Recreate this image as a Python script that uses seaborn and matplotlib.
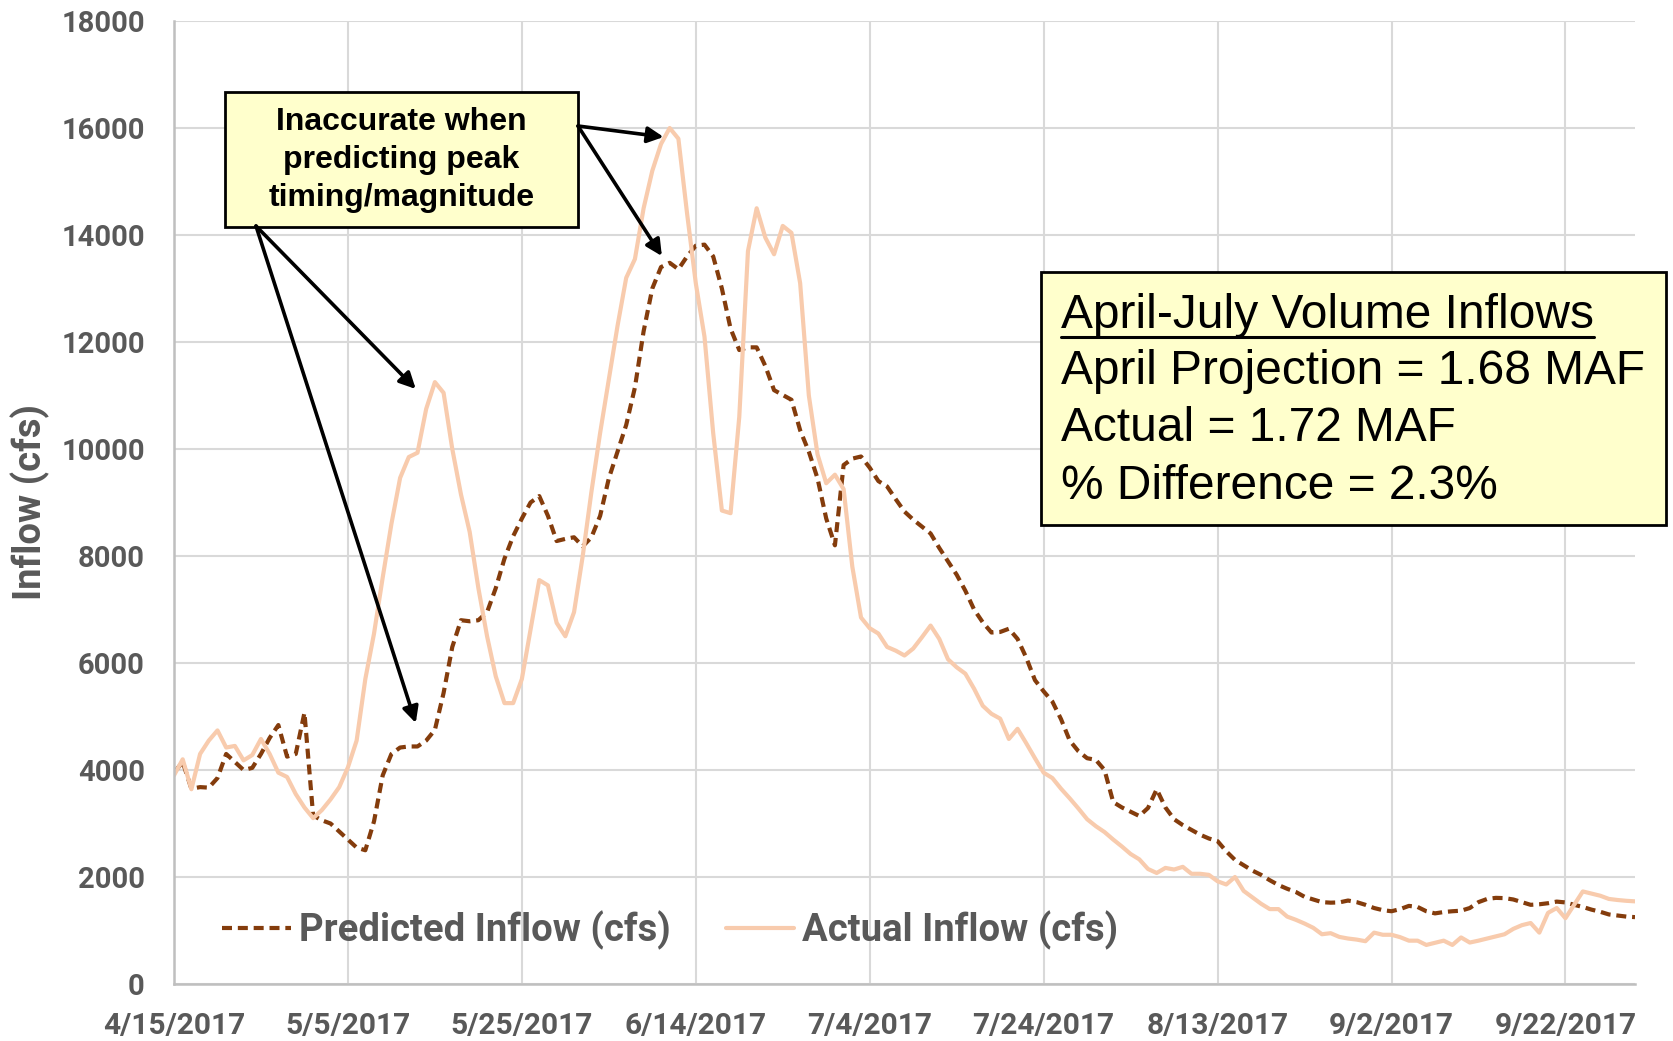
import matplotlib
matplotlib.use("Agg")
import matplotlib.pyplot as plt
import matplotlib.dates as mdates
from matplotlib.patches import Rectangle
from matplotlib.lines import Line2D
import seaborn as sns
import pandas as pd

# ---------------- data ----------------
start_date = "2017-04-15"
day_offsets = list(range(169))

predicted_cfs = [
    3950, 4150, 3650, 3680, 3670, 3850, 4300, 4150, 4000, 4040,
    4300, 4600, 4840, 4250, 4300, 5070, 3150, 3060, 3000, 2850,
    2700, 2550, 2500, 3040, 3900, 4300, 4420, 4440, 4440, 4550,
    4750, 5440, 6300, 6800, 6780, 6800, 6950, 7400, 7950, 8370,
    8700, 9000, 9120, 8750, 8280, 8320, 8350, 8180, 8350, 8750,
    9450, 9950, 10450, 11150, 12200, 13000, 13400, 13480, 13360, 13600,
    13800, 13820, 13600, 13000, 12250, 11850, 11900, 11900, 11550, 11100,
    11010, 10920, 10350, 9950, 9450, 8700, 8200, 9700, 9820, 9860,
    9650, 9400, 9300, 9060, 8830, 8680, 8550, 8420, 8150, 7900,
    7650, 7350, 7000, 6760, 6570, 6580, 6640, 6450, 6100, 5680,
    5470, 5280, 4950, 4550, 4350, 4220, 4190, 4000, 3400, 3300,
    3220, 3140, 3290, 3640, 3300, 3080, 2970, 2880, 2790, 2720,
    2670, 2480, 2320, 2220, 2120, 2040, 1940, 1850, 1780, 1720,
    1630, 1580, 1530, 1520, 1525, 1560, 1530, 1480, 1420, 1380,
    1360, 1400, 1460, 1440, 1360, 1320, 1345, 1360, 1370, 1420,
    1530, 1590, 1610, 1605, 1580, 1530, 1480, 1490, 1510, 1540,
    1525, 1480, 1440, 1390, 1350, 1300, 1280, 1260, 1250,
]

actual_cfs = [
    3900, 4200, 3640, 4300, 4550, 4740, 4420, 4450, 4180, 4280,
    4580, 4300, 3950, 3870, 3550, 3300, 3100, 3250, 3450, 3680,
    4050, 4550, 5700, 6550, 7600, 8600, 9460, 9850, 9930, 10750,
    11250, 11050, 10000, 9150, 8450, 7400, 6500, 5750, 5250, 5250,
    5700, 6620, 7550, 7450, 6750, 6500, 6950, 8000, 9200, 10300,
    11300, 12300, 13200, 13550, 14500, 15200, 15700, 16000, 15800, 14400,
    13100, 12100, 10300, 8850, 8800, 10600, 13700, 14500, 13950, 13640,
    14170, 14040, 13100, 11000, 9900, 9360, 9520, 9250, 7800, 6850,
    6650, 6550, 6300, 6230, 6140, 6270, 6480, 6700, 6450, 6070,
    5920, 5800, 5520, 5200, 5050, 4960, 4580, 4770, 4500, 4220,
    3950, 3850, 3650, 3470, 3280, 3080, 2950, 2840, 2700, 2570,
    2430, 2330, 2150, 2075, 2170, 2140, 2190, 2060, 2060, 2040,
    1920, 1860, 2000, 1740, 1620, 1500, 1400, 1400, 1260, 1200,
    1130, 1050, 930, 950, 880, 850, 830, 800, 960, 920,
    920, 875, 810, 810, 730, 770, 810, 730, 870, 775,
    810, 850, 890, 930, 1030, 1100, 1140, 960, 1330, 1420,
    1230, 1480, 1730, 1690, 1650, 1590, 1570, 1555, 1545,
]

series_names = ["Predicted Inflow (cfs)", "Actual Inflow (cfs)"]
y_ticks = [0, 2000, 4000, 6000, 8000, 10000, 12000, 14000, 16000, 18000]
x_tick_offsets = [0, 20, 40, 60, 80, 100, 120, 140, 160]

callout_text = "Inaccurate when\npredicting peak\ntiming/magnitude"
summary_title = "April-July Volume Inflows"
summary_lines = ["April Projection = 1.68 MAF", "Actual = 1.72 MAF", "% Difference = 2.3%"]

# ---------------- frame ----------------
dates = pd.Timestamp(start_date) + pd.to_timedelta(day_offsets, unit="D")
df = pd.concat([
    pd.DataFrame({"date": dates, "cfs": predicted_cfs, "series": series_names[0]}),
    pd.DataFrame({"date": dates, "cfs": actual_cfs, "series": series_names[1]}),
])

sns.set_theme(style="white")
plt.rcParams["font.family"] = ["Roboto", "DejaVu Sans"]

W, H = 1673, 1041
fig = plt.figure(figsize=(W / 100, H / 100), dpi=100)
ax_l, ax_r, ax_t, ax_b = 174, 1635, 21, 984
ax = fig.add_axes([ax_l / W, 1 - ax_b / H, (ax_r - ax_l) / W, (ax_b - ax_t) / H])

pred_color = "#843C0C"
act_color = "#F8CBAD"
grey_txt = "#595959"
LW = 3.0
DASH = (2.4, 1.4)

sns.lineplot(data=df, x="date", y="cfs", hue="series", style="series",
             palette={series_names[0]: pred_color, series_names[1]: act_color},
             dashes={series_names[0]: DASH, series_names[1]: ""},
             linewidth=LW, ax=ax, legend=False)
for line in ax.get_lines():
    line.set_solid_capstyle("round")
    line.set_solid_joinstyle("round")
    line.set_dash_capstyle("butt")

x0 = pd.Timestamp(start_date)
ax.set_xlim(x0, x0 + pd.Timedelta(days=168))
ax.set_ylim(0, 18000)
ax.set_yticks(y_ticks)
ax.set_xticks([x0 + pd.Timedelta(days=d) for d in x_tick_offsets])
ax.xaxis.set_major_formatter(mdates.DateFormatter("%-m/%-d/%Y"))
ax.grid(True, color="#D9D9D9", linewidth=1.5)
ax.set_axisbelow(True)
for s in ["top", "right"]:
    ax.spines[s].set_visible(False)
for s in ["left", "bottom"]:
    ax.spines[s].set_color("#BFBFBF")
    ax.spines[s].set_linewidth(1.8)
ax.tick_params(axis="both", length=0, labelcolor=grey_txt)
ax.tick_params(axis="y", pad=21, labelsize=21)
ax.tick_params(axis="x", pad=20, labelsize=21.5)
for lab in ax.get_xticklabels() + ax.get_yticklabels():
    lab.set_fontweight("bold")
ax.set_xlabel("")
ax.set_ylabel("Inflow (cfs)", fontsize=27.5, fontweight="bold", color=grey_txt, labelpad=8)

# legend
handles = [Line2D([], [], color=pred_color, lw=LW, dashes=DASH),
           Line2D([], [], color=act_color, lw=LW)]
leg = ax.legend(handles, series_names, loc="center left", bbox_to_anchor=(0.033, 0.056),
                ncol=2, frameon=False, fontsize=27.5, handlelength=1.8, handletextpad=0.2,
                columnspacing=1.45, borderpad=0, borderaxespad=0)
for t in leg.get_texts():
    t.set_fontweight("bold")
    t.set_color(grey_txt)


def fx(px):
    return (px - ax_l) / (ax_r - ax_l)


def fy(py):
    return (ax_b - py) / (ax_b - ax_t)


# callout box
ax.add_patch(Rectangle((fx(225), fy(227)), fx(578) - fx(225), fy(92) - fy(227),
                       transform=ax.transAxes, facecolor="#FFFFCC", edgecolor="black",
                       linewidth=2, zorder=6, clip_on=False))
ax.text(fx(401.5), fy(160), callout_text, transform=ax.transAxes, ha="center", va="center",
        fontsize=23, fontweight="bold", family=["Liberation Sans", "DejaVu Sans"],
        linespacing=1.33, zorder=7, color="black")

arrow_kw = dict(arrowstyle="-|>", lw=2.6, color="black", mutation_scale=24,
                shrinkA=0, shrinkB=0)
arrows = [((27.8, 11122), (256, 226)), ((27.8, 4879), (256, 226)),
          ((56.3, 15832), (578, 126)), ((56.1, 13607), (578, 126))]
for (d, v), (tx, ty) in arrows:
    ax.annotate("", xy=(x0 + pd.Timedelta(days=d), v), xycoords="data",
                xytext=(fx(tx), fy(ty)), textcoords="axes fraction",
                arrowprops=arrow_kw, zorder=8)

# summary box
ax.add_patch(Rectangle((fx(1041), fy(525)), fx(1666) - fx(1041), fy(272) - fy(525),
                       transform=ax.transAxes, facecolor="#FFFFCC", edgecolor="black",
                       linewidth=2, zorder=6, clip_on=False))
title_txt = ax.text(fx(1061), fy(315), summary_title, transform=ax.transAxes, ha="left",
                    va="center", fontsize=34.5, family=["Liberation Sans", "DejaVu Sans"],
                    zorder=7, color="black")
for i, line_txt in enumerate(summary_lines):
    ax.text(fx(1061), fy(371 + 57.5 * i), line_txt, transform=ax.transAxes, ha="left",
            va="center", fontsize=34.5, family=["Liberation Sans", "DejaVu Sans"],
            zorder=7, color="black", clip_on=False)

fig.canvas.draw()
bb = title_txt.get_window_extent(renderer=fig.canvas.get_renderer())
inv = ax.transAxes.inverted()
(ux0, _), (ux1, _) = inv.transform([(bb.x0, bb.y0), (bb.x1, bb.y0)])
ax.add_line(Line2D([ux0, ux1], [fy(337)] * 2, transform=ax.transAxes, color="black",
                   lw=2.2, zorder=7, clip_on=False))

fig.savefig("out.png", dpi=100)
